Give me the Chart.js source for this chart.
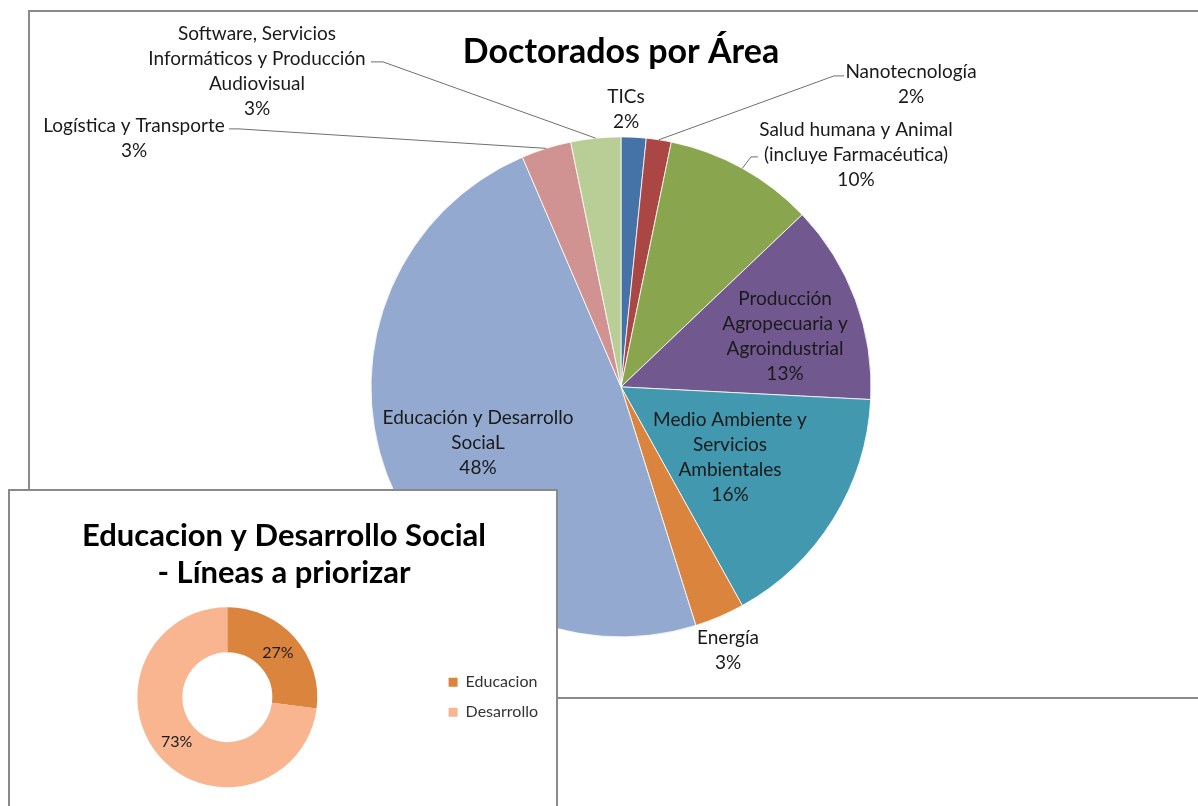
<!DOCTYPE html>
<html><head><meta charset="utf-8">
<script src="https://cdn.jsdelivr.net/npm/chart.js@4.4.1/dist/chart.umd.min.js"></script>
<style>
html,body{margin:0;padding:0;background:#fff;width:1198px;height:806px;overflow:hidden;position:relative;}
#mainBox{position:absolute;left:28px;top:10px;width:1180px;height:685px;border:2px solid #898989;background:#fff;}
#insetBox{position:absolute;left:8px;top:489px;width:546px;height:330px;border:2px solid #898989;background:#fff;}
canvas{display:block}
</style></head><body>
<div id="mainBox"><canvas id="main" width="1180" height="685" style="width:1180px;height:685px"></canvas></div>
<div id="insetBox"><canvas id="inset" width="546" height="330" style="width:546px;height:330px"></canvas></div>
<script>
// ---- data ----
const areaCategories = [
  'TICs',
  'Nanotecnología',
  'Salud humana y Animal\n(incluye Farmacéutica)',
  'Producción\nAgropecuaria y\nAgroindustrial',
  'Medio Ambiente y\nServicios\nAmbientales',
  'Energía',
  'Educación y Desarrollo\nSociaL',
  'Logística y Transporte',
  'Software, Servicios\nInformáticos y Producción\nAudiovisual'
];
const doctorados = [1, 1, 6, 8, 10, 2, 30, 2, 2];
const areaColors = ['#4572A7','#AA4643','#89A54E','#71588F','#4198AF','#DB843D','#93A9CF','#D19392','#B9CD96'];

const lineasCategories = ['Educacion', 'Desarrollo'];
const lineasPercent = [27, 73];
const lineasColors = ['#DA843E', '#F8B590'];

// ---- label layout (offsets from pie centre, px) ----
const labelOffsets = [
  {dx: 5, dy: -278},
  {dx: 290, dy: -303},
  {dx: 235, dy: -232},
  {dx: 164, dy: -51},
  {dx: 109, dy: 70},
  {dx: 107, dy: 263},
  {dx: -143, dy: 56},
  {dx: -487, dy: -249},
  {dx: -364, dy: -316}
];
const leaderPaths = [
  null,
  [[213,-311],[223,-311]],
  [[130,-230],[137,-230]],
  null, null, null, null,
  [[-382,-258],[-392,-258]],
  [[-238,-325],[-250,-325]]
];

const FONT = 'Lato, "Open Sans", sans-serif';

const mainLabels = {
  id: 'mainLabels',
  afterDatasetsDraw(chart) {
    const ctx = chart.ctx;
    const meta = chart.getDatasetMeta(0);
    const total = doctorados.reduce((a, b) => a + b, 0);
    ctx.save();
    meta.data.forEach((arc, i) => {
      const p = arc.getProps(['x','y','startAngle','endAngle','outerRadius'], true);
      const mid = (p.startAngle + p.endAngle) / 2;
      const lp = leaderPaths[i];
      if (lp) {
        ctx.beginPath();
        ctx.strokeStyle = '#6f6f6f';
        ctx.lineWidth = 1;
        ctx.moveTo(p.x + p.outerRadius * Math.cos(mid), p.y + p.outerRadius * Math.sin(mid));
        lp.forEach(pt => ctx.lineTo(p.x + pt[0], p.y + pt[1]));
        ctx.stroke();
      }
      const lines = areaCategories[i].split('\n');
      lines.push(Math.round(doctorados[i] / total * 100) + '%');
      const lh = 25;
      const cx = p.x + labelOffsets[i].dx;
      const cy = p.y + labelOffsets[i].dy - (lines.length - 1) * lh / 2;
      ctx.font = '19px ' + FONT;
      ctx.fillStyle = '#1a1a1a';
      ctx.textAlign = 'center';
      ctx.textBaseline = 'middle';
      lines.forEach((t, k) => ctx.fillText(t, cx, cy + k * lh));
    });
    ctx.restore();
  }
};

new Chart(document.getElementById('main'), {
  type: 'pie',
  data: {
    labels: areaCategories,
    datasets: [{ data: doctorados, backgroundColor: areaColors, borderColor: '#ffffff', borderWidth: 0.8 }]
  },
  options: {
    responsive: false,
    animation: false,
    radius: 250,
    layout: { padding: { left: 2, right: 0, top: 0, bottom: 13 } },
    plugins: {
      legend: { display: false },
      tooltip: { enabled: false },
      title: {
        display: true,
        text: 'Doctorados por Área',
        color: '#000',
        font: { family: FONT, size: 34, weight: 'bold', lineHeight: 1.2 },
        padding: { top: 20, bottom: 17 }
      }
    }
  },
  plugins: [mainLabels]
});

const insetLabels = {
  id: 'insetLabels',
  afterDatasetsDraw(chart) {
    const ctx = chart.ctx;
    const meta = chart.getDatasetMeta(0);
    ctx.save();
    ctx.font = '16px ' + FONT;
    ctx.fillStyle = '#1a1a1a';
    ctx.textAlign = 'center';
    ctx.textBaseline = 'middle';
    meta.data.forEach((arc, i) => {
      const p = arc.getProps(['x','y','startAngle','endAngle','outerRadius','innerRadius'], true);
      const mid = (p.startAngle + p.endAngle) / 2;
      const r = (p.outerRadius + p.innerRadius) / 2;
      ctx.fillText(lineasPercent[i] + '%', p.x + r * Math.cos(mid), p.y + r * Math.sin(mid));
    });
    ctx.restore();
  }
};

new Chart(document.getElementById('inset'), {
  type: 'doughnut',
  data: {
    labels: lineasCategories,
    datasets: [{ data: lineasPercent, backgroundColor: lineasColors, borderWidth: 0 }]
  },
  options: {
    responsive: false,
    animation: false,
    radius: 90,
    cutout: '50%',
    layout: { padding: { left: 10, right: 8, top: 0, bottom: 34 } },
    plugins: {
      tooltip: { enabled: false },
      title: {
        display: true,
        text: ['Educacion y Desarrollo Social', '- Líneas a priorizar'],
        color: '#000',
        font: { family: FONT, size: 31, weight: 'bold', lineHeight: 1.2 },
        padding: { top: 26, bottom: 16 }
      },
      legend: {
        position: 'right',
        fullSize: false,
        labels: {
          color: '#333',
          font: { family: FONT, size: 16 },
          boxWidth: 9,
          boxHeight: 9,
          padding: 14
        }
      }
    }
  },
  plugins: [insetLabels]
});
</script>
</body></html>
